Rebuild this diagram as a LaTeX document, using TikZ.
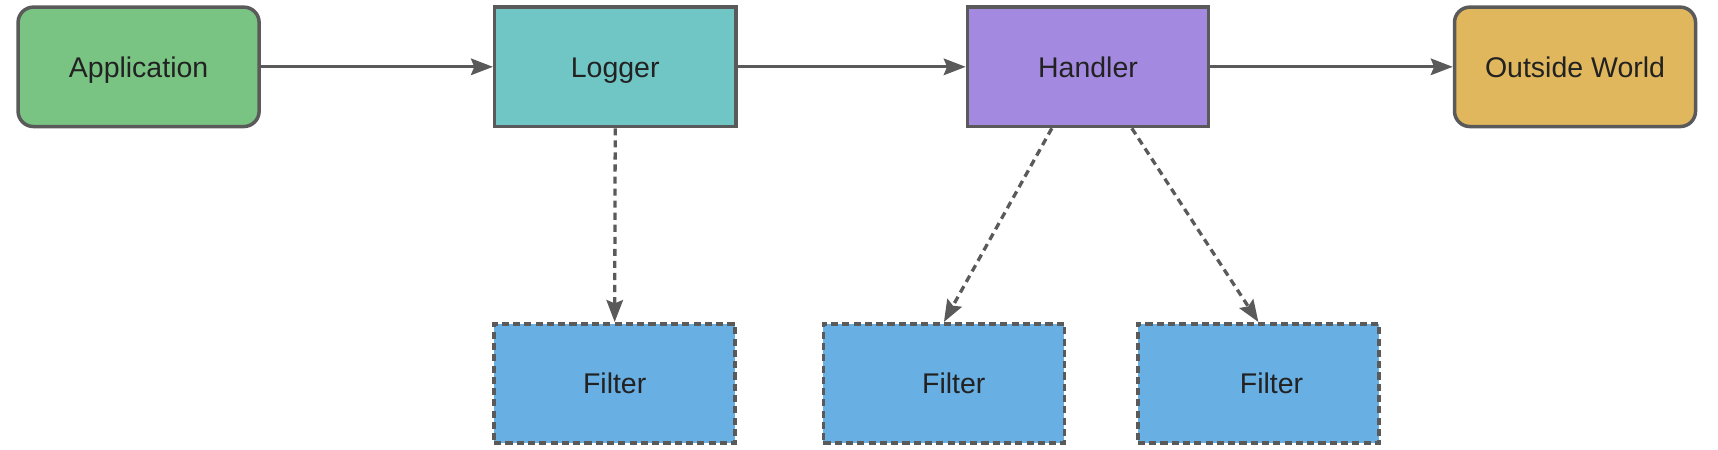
\documentclass[tikz,border=0pt]{standalone}
\usepackage{fontspec}
\setmainfont{Liberation Sans}
\usetikzlibrary{arrows.meta}
\definecolor{edge}{HTML}{5A5A5A}
\definecolor{txt}{HTML}{222222}
\definecolor{appc}{HTML}{79C483}
\definecolor{logc}{HTML}{70C5C5}
\definecolor{hanc}{HTML}{A38AE0}
\definecolor{outc}{HTML}{E0B75C}
\definecolor{filc}{HTML}{68AFE3}
\tikzset{
  x=1pt,y=1pt,
  basebox/.style={draw=edge, line width=3.2pt, minimum width=220pt, minimum height=109pt,
    inner sep=0pt, text height=19pt, text depth=0pt, text=txt, font=\fontsize{26}{30}\selectfont},
  roundbox/.style={basebox, rounded corners=14pt},
  filterbox/.style={basebox, dash pattern=on 6.5pt off 3.8pt},
  flow/.style={draw=edge, line width=3pt, -{Stealth[length=20pt,width=15pt,inset=3pt]}},
  dflow/.style={flow, dash pattern=on 6.5pt off 4.5pt}
}
\begin{document}
\begin{tikzpicture}
\useasboundingbox (0,0) rectangle (1568,410);
\node[roundbox, fill=appc] (app) at (126.5,349) {Application};
\node[basebox, fill=logc] (logger) at (561.5,349) {Logger};
\node[basebox, fill=hanc] (handler) at (993,349) {Handler};
\node[roundbox, fill=outc] (out) at (1437.5,349) {Outside World};
\node[filterbox, fill=filc] (f1) at (561,60) {Filter};
\node[filterbox, fill=filc] (f2) at (861.5,60) {\hspace*{18pt}Filter};
\node[filterbox, fill=filc] (f3) at (1148.5,60) {\hspace*{24pt}Filter};
\coordinate (h1) at ([xshift=-33pt]handler.south);
\coordinate (h2) at ([xshift=40pt]handler.south);
\draw[flow] (app.east) -- (logger.west);
\draw[flow] (logger.east) -- (handler.west);
\draw[flow] (handler.east) -- (out.west);
\draw[dflow] (logger.south) -- (f1.north);
\draw[dflow] (h1) -- (f2.north);
\draw[dflow] (h2) -- (f3.north);
\end{tikzpicture}
\end{document}
